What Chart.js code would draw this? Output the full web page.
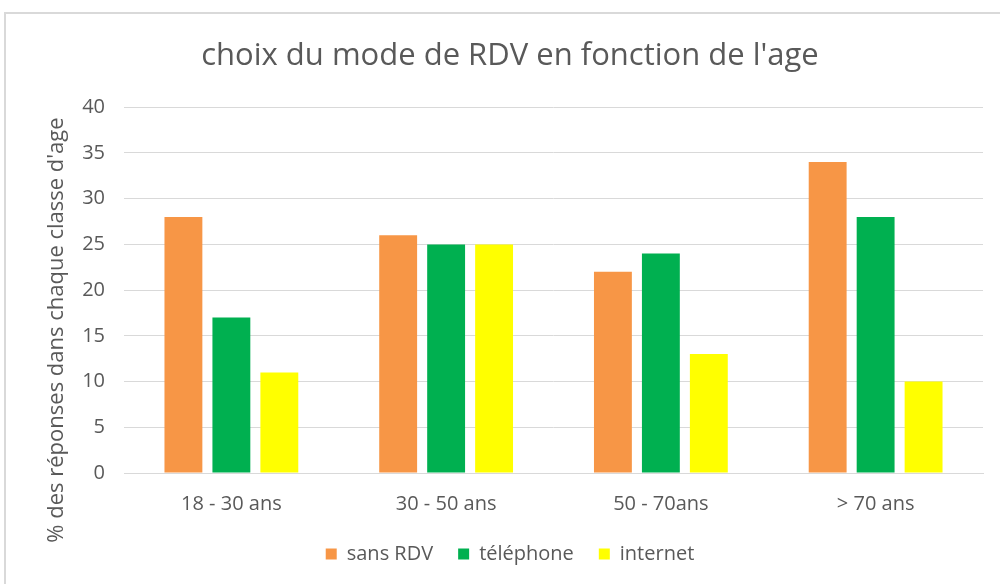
<!DOCTYPE html>
<html><head><meta charset="utf-8">
<script src="https://cdn.jsdelivr.net/npm/chart.js@4.4.1/dist/chart.umd.min.js"></script>
<style>
html,body{margin:0;padding:0;background:#fff;overflow:hidden}
#frame{position:absolute;left:4px;top:12px;width:1010px;height:600px;border:2px solid #d9d9d9;box-sizing:border-box}
#wrap{position:absolute;left:0;top:0;width:1000px;height:584px}
</style></head>
<body>
<div id="frame"></div>
<div id="wrap"><canvas id="c" width="1000" height="584"></canvas></div>
<script>
const categories = ["18 - 30 ans", "30 - 50 ans", "50 - 70ans", "> 70 ans"];
const sansRDV = [28, 26, 22, 34];
const telephone = [17, 25, 24, 28];
const internet = [11, 25, 13, 10];
const seriesNames = ["sans RDV", "téléphone", "internet"];
const titleText = "choix du mode de RDV en fonction de l'age";
const yTitle = "% des réponses dans chaque classe d'age";

const FONT = "'Open Sans', 'Noto Sans', sans-serif";
const GREY = "#595959";

const yTitlePlugin = {
  id: 'yTitlePlugin',
  afterDraw(chart) {
    const ctx = chart.ctx;
    ctx.save();
    ctx.translate(57, 330);
    ctx.rotate(-Math.PI / 2);
    ctx.textAlign = 'center';
    ctx.textBaseline = 'middle';
    ctx.fillStyle = GREY;
    ctx.font = "22px " + FONT;
    ctx.fillText(yTitle, 0, 0);
    ctx.restore();
  }
};

new Chart(document.getElementById('c'), {
  type: 'bar',
  data: {
    labels: categories,
    datasets: [
      {label: seriesNames[0], data: sansRDV, backgroundColor: '#F79646'},
      {label: seriesNames[1], data: telephone, backgroundColor: '#00B050'},
      {label: seriesNames[2], data: internet, backgroundColor: '#FFFF00'}
    ]
  },
  plugins: [yTitlePlugin],
  options: {
    responsive: false,
    animation: false,
    devicePixelRatio: 1,
    layout: {padding: {left: 37, right: 17, top: 20, bottom: 10}},
    datasets: {bar: {categoryPercentage: 0.67, barPercentage: 0.79}},
    plugins: {
      title: {display: true, text: titleText, color: GREY,
        font: {family: FONT, size: 31, weight: 'normal'}, padding: {top: 18, bottom: 32}},
      legend: {position: 'bottom',
        labels: {color: GREY, boxWidth: 11, boxHeight: 11, padding: 25,
          font: {family: FONT, size: 20}}},
      tooltip: {enabled: false}
    },
    scales: {
      x: {
        afterFit(scale) { scale.height = 46; },
        grid: {display: false, drawTicks: false},
        border: {display: true, color: '#d9d9d9', width: 1},
        ticks: {color: GREY, font: {family: FONT, size: 20}, padding: 19}
      },
      y: {
        min: 0, max: 40,
        afterFit(scale) { scale.width = 87; },
        grid: {color: '#d9d9d9', drawTicks: false},
        border: {display: false},
        ticks: {stepSize: 5, color: GREY, font: {family: FONT, size: 20}, padding: 19}
      }
    }
  }
});
</script>
</body></html>
